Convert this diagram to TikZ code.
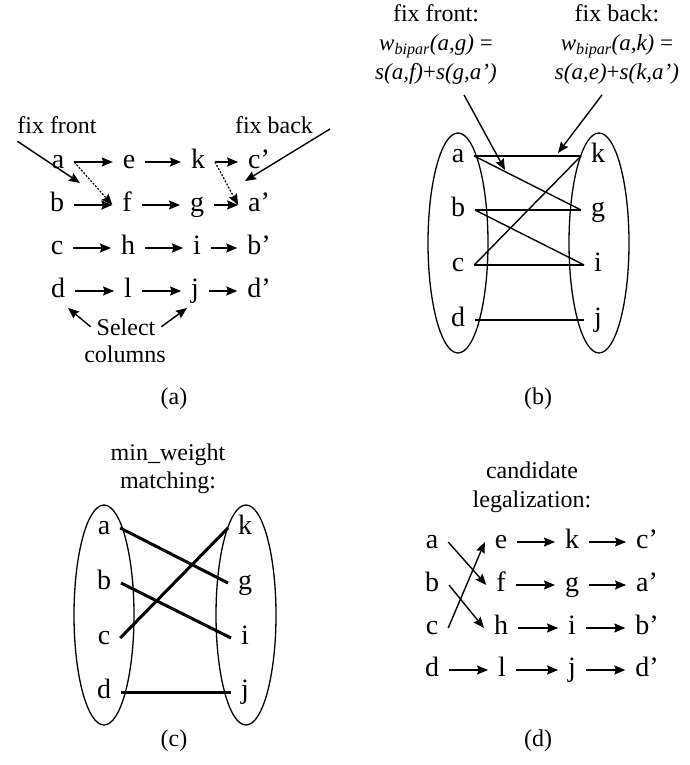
\documentclass[tikz,border=0pt]{standalone}
\usepackage{fontspec}
\setmainfont{Liberation Serif}
\usetikzlibrary{arrows.meta,shapes.geometric}
\begin{document}
\begin{tikzpicture}[x=1pt,y=-1pt,
  every node/.style={inner sep=0pt, outer sep=0pt},
  lt/.style={font=\fontsize{28}{32}\selectfont, text height=18pt, text depth=5pt, inner xsep=10pt, inner ysep=1pt},
  lbl/.style={font=\fontsize{24}{28}\selectfont},
  frm/.style={font=\fontsize{23}{27}\selectfont\itshape},
  arr/.style={line width=1.4pt, -{Stealth[length=11pt,width=9pt,inset=1.5pt]}},
  dotarr/.style={line width=1.2pt, dash pattern=on 2pt off 1.5pt, -{Stealth[length=11pt,width=9pt,inset=1.5pt]}},
  oval/.style={draw, ellipse, line width=1.3pt, minimum width=60pt, minimum height=220pt},
  ln/.style={line width=1.4pt},
  thk/.style={line width=3pt}
]
\useasboundingbox (0,0) rectangle (690,765);

% ---------------- panel (a)
\node[lt] (a1) at (58,162) {a};
\node[lt] (e1) at (129,162) {e};
\node[lt] (k1) at (198,162) {k};
\node[lt] (c1p) at (259,162) {c’};
\node[lt] (b1) at (57,205) {b};
\node[lt] (f1) at (127,205) {f};
\node[lt] (g1) at (197,205) {g};
\node[lt] (a1p) at (259,205) {a’};
\node[lt] (c1) at (57,248) {c};
\node[lt] (h1) at (128,248) {h};
\node[lt] (i1) at (197,248) {i};
\node[lt] (b1p) at (259,248) {b’};
\node[lt] (d1) at (58,291) {d};
\node[lt] (l1) at (128,291) {l};
\node[lt] (j1) at (195,291) {j};
\node[lt] (d1p) at (259,291) {d’};
\foreach \u/\v in {a1/e1,e1/k1,k1/c1p,b1/f1,f1/g1,g1/a1p,c1/h1,h1/i1,i1/b1p,d1/l1,l1/j1,j1/d1p}
  \draw[arr] (\u) -- (\v);
\draw[dotarr] (a1.east) -- (f1.west);
\draw[dotarr] (k1.east) -- (a1p.west);

\node[lbl, anchor=base] (fixfront) at (57,133) {fix front};
\node[lbl, anchor=base] (fixback) at (274,133) {fix back};
\coordinate (ffend) at (80,183);
\coordinate (fbend) at (245,181);
\draw[arr] ([yshift=-8pt]fixfront.south west) -- (ffend);
\draw[arr] ([xshift=17pt,yshift=4pt]fixback.base east) -- (fbend);

\node[lbl, anchor=base] (select) at (126,335) {Select};
\node[lbl, anchor=base] (columns) at (125,362) {columns};
\coordinate (selL) at (68,308);
\coordinate (selR) at (187,308);
\draw[arr] ([xshift=-6pt]select.west) -- (selL);
\draw[arr] ([xshift=6pt]select.east) -- (selR);
\node[lbl, anchor=base] (capa) at (174,404) {(a)};

% ---------------- panel (b)
\node[lbl, anchor=base] (ffb) at (436,22) {fix front:};
\node[frm, anchor=base] (wg) at (436,51) {w\textsubscript{bipar}(a,g) \upshape=};
\node[frm, anchor=base] (sg) at (436,80) {s(a,f)\upshape{+}\itshape s(g,a’)};
\node[lbl, anchor=base] (fbb) at (617,22) {fix back:};
\node[frm, anchor=base] (wk) at (617,51) {w\textsubscript{bipar}(a,k) \upshape=};
\node[frm, anchor=base] (sk) at (617,80) {s(a,e)\upshape{+}\itshape s(k,a’)};

\node[oval] (L2) at (458,243) {};
\node[oval] (R2) at (599,243) {};
\node[lt] (a2) at (458,156) {a};
\node[lt] (b2) at (458,210) {b};
\node[lt] (c2) at (458,265) {c};
\node[lt] (d2) at (458,320) {d};
\node[lt] (k2) at (598,156) {k};
\node[lt] (g2) at (598,210) {g};
\node[lt] (i2) at (598,265) {i};
\node[lt] (j2) at (598,320) {j};
\foreach \u/\v in {a2/k2,a2/g2,b2/g2,b2/i2,c2/k2,c2/i2,d2/j2}
  \draw[ln] (\u.east) -- (\v.west);
\coordinate (bff) at (505,170);
\coordinate (bfb) at (558,153);
\draw[arr] ([xshift=28pt,yshift=-10pt]sg.south) -- (bff);
\draw[arr] ([xshift=-15pt,yshift=-10pt]sk.south) -- (bfb);
\node[lbl, anchor=base] (capb) at (538,404) {(b)};

% ---------------- panel (c)
\node[lbl, anchor=base] (mw) at (168,460) {min\_weight};
\node[lbl, anchor=base] (mt) at (168,488) {matching:};
\node[oval] (L3) at (104,615) {};
\node[oval] (R3) at (246,615) {};
\node[lt] (a3) at (104,528) {a};
\node[lt] (b3) at (104,583) {b};
\node[lt] (c3) at (104,638) {c};
\node[lt] (d3) at (104,692) {d};
\node[lt] (k3) at (245,528) {k};
\node[lt] (g3) at (245,583) {g};
\node[lt] (i3) at (245,638) {i};
\node[lt] (j3) at (245,692) {j};
\foreach \u/\v in {a3/g3,b3/i3,c3/k3,d3/j3}
  \draw[thk] (\u.east) -- (\v.west);
\node[lbl, anchor=base] (capc) at (174,746) {(c)};

% ---------------- panel (d)
\node[lbl, anchor=base] (cand) at (532,478) {candidate};
\node[lbl, anchor=base] (legal) at (532,507) {legalization:};
\node[lt] (a4) at (432,542) {a};
\node[lt] (b4) at (432,585) {b};
\node[lt] (c4) at (432,628) {c};
\node[lt] (d4) at (432,670) {d};
\node[lt] (e4) at (501,542) {e};
\node[lt] (f4) at (501,585) {f};
\node[lt] (h4) at (501,628) {h};
\node[lt] (l4) at (502,670) {l};
\node[lt] (k4) at (572,542) {k};
\node[lt] (g4) at (572,585) {g};
\node[lt] (i4) at (572,628) {i};
\node[lt] (j4) at (572,670) {j};
\node[lt] (c4p) at (647,542) {c’};
\node[lt] (a4p) at (647,585) {a’};
\node[lt] (b4p) at (647,628) {b’};
\node[lt] (d4p) at (647,670) {d’};
\foreach \u/\v in {e4/k4,k4/c4p,f4/g4,g4/a4p,h4/i4,i4/b4p,d4/l4,l4/j4,j4/d4p}
  \draw[arr] (\u) -- (\v);
\draw[arr] (a4.east) -- (f4.west);
\draw[arr] (b4.east) -- (h4.west);
\draw[arr] (c4.east) -- (e4.west);
\node[lbl, anchor=base] (capd) at (538,746) {(d)};
\end{tikzpicture}
\end{document}
